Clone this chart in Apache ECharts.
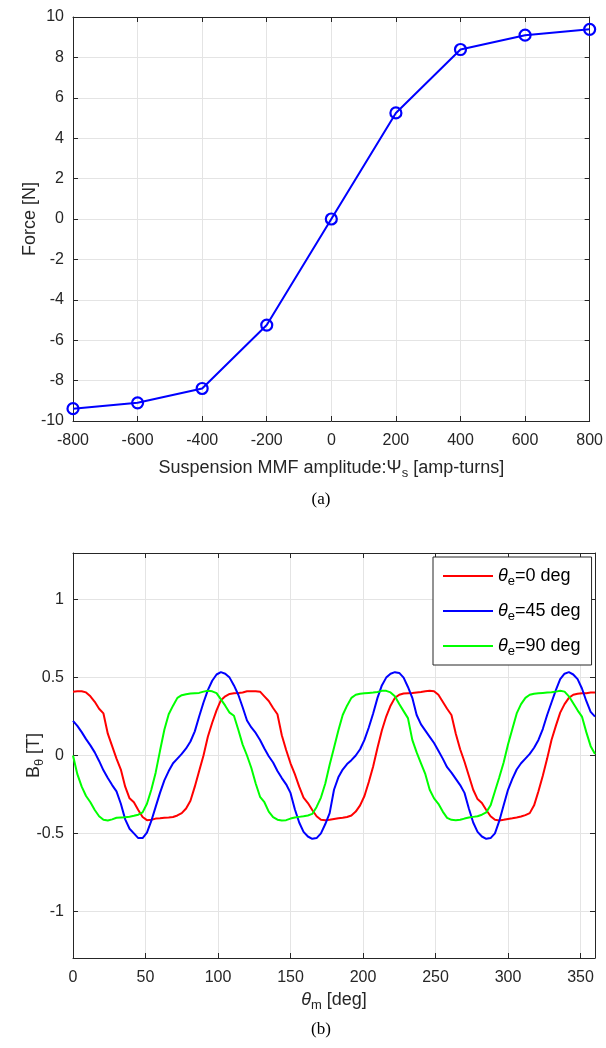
<!DOCTYPE html>
<html>
<head>
<meta charset="utf-8">
<script src="https://cdn.jsdelivr.net/npm/echarts@6/dist/echarts.min.js"></script>
<style>
  html, body { margin: 0; padding: 0; background: #fff; }
  #chart { width: 606px; height: 1048px; }
</style>
</head>
<body>
<div id="chart"></div>
<script>
// (a) force vs suspension MMF
const mmf = [-800, -600, -400, -200, 0, 200, 400, 600, 800];
const force = [-9.39, -9.10, -8.39, -5.25, 0, 5.25, 8.39, 9.10, 9.39];

// (b) air-gap flux density vs mechanical angle
const thetaM = [
  0, 3, 6, 9, 12, 15, 18, 21, 24, 27,
  30, 33, 36, 39, 42, 45, 48, 51, 54, 57,
  60, 63, 66, 69, 72, 75, 78, 81, 84, 87,
  90, 93, 96, 99, 102, 105, 108, 111, 114, 117,
  120, 123, 126, 129, 132, 135, 138, 141, 144, 147,
  150, 153, 156, 159, 162, 165, 168, 171, 174, 177,
  180, 183, 186, 189, 192, 195, 198, 201, 204, 207,
  210, 213, 216, 219, 222, 225, 228, 231, 234, 237,
  240, 243, 246, 249, 252, 255, 258, 261, 264, 267,
  270, 273, 276, 279, 282, 285, 288, 291, 294, 297,
  300, 303, 306, 309, 312, 315, 318, 321, 324, 327,
  330, 333, 336, 339, 342, 345, 348, 351, 354, 357,
  360
];
const bTheta0 = [
  0.410, 0.412, 0.413, 0.405, 0.380, 0.345, 0.300, 0.270, 0.140, 0.060,
  -0.020, -0.090, -0.200, -0.275, -0.300, -0.350, -0.395, -0.415, -0.413, -0.405,
  -0.403, -0.400, -0.398, -0.395, -0.385, -0.370, -0.340, -0.290, -0.200, -0.100,
  0.000, 0.120, 0.210, 0.290, 0.355, 0.380, 0.395, 0.400, 0.402, 0.405,
  0.412, 0.413, 0.413, 0.410, 0.380, 0.350, 0.305, 0.265, 0.130, 0.035,
  -0.050, -0.120, -0.200, -0.270, -0.305, -0.350, -0.390, -0.413, -0.415, -0.413,
  -0.408, -0.403, -0.400, -0.395, -0.385, -0.360, -0.320, -0.260, -0.170, -0.070,
  0.050, 0.160, 0.250, 0.320, 0.370, 0.390, 0.398, 0.400, 0.402, 0.405,
  0.408, 0.412, 0.415, 0.413, 0.390, 0.345, 0.300, 0.260, 0.140, 0.040,
  -0.040, -0.130, -0.220, -0.280, -0.305, -0.350, -0.390, -0.413, -0.417, -0.413,
  -0.407, -0.403, -0.398, -0.392, -0.383, -0.370, -0.320, -0.230, -0.130, -0.020,
  0.100, 0.190, 0.275, 0.330, 0.370, 0.390, 0.397, 0.400, 0.400, 0.404,
  0.405
];
const bTheta45 = [
  0.222, 0.190, 0.150, 0.105, 0.065, 0.020, -0.035, -0.095, -0.145, -0.190,
  -0.230, -0.310, -0.410, -0.470, -0.500, -0.530, -0.530, -0.495, -0.420, -0.330,
  -0.240, -0.160, -0.100, -0.050, -0.020, 0.010, 0.045, 0.090, 0.155, 0.250,
  0.340, 0.420, 0.480, 0.520, 0.535, 0.525, 0.500, 0.450, 0.390, 0.310,
  0.225, 0.180, 0.145, 0.100, 0.045, -0.005, -0.045, -0.100, -0.145, -0.185,
  -0.240, -0.345, -0.430, -0.490, -0.520, -0.535, -0.530, -0.500, -0.440, -0.370,
  -0.220, -0.140, -0.090, -0.055, -0.030, 0.000, 0.040, 0.100, 0.180, 0.270,
  0.370, 0.450, 0.500, 0.525, 0.535, 0.530, 0.500, 0.440, 0.370, 0.260,
  0.200, 0.160, 0.120, 0.080, 0.030, -0.020, -0.075, -0.110, -0.150, -0.190,
  -0.240, -0.340, -0.430, -0.490, -0.520, -0.535, -0.530, -0.500, -0.420, -0.320,
  -0.220, -0.150, -0.090, -0.050, -0.020, 0.010, 0.050, 0.100, 0.170, 0.260,
  0.340, 0.420, 0.490, 0.525, 0.535, 0.520, 0.490, 0.430, 0.350, 0.280,
  0.250
];
const bTheta90 = [
  0.000, -0.120, -0.200, -0.260, -0.300, -0.350, -0.390, -0.413, -0.417, -0.410,
  -0.400, -0.398, -0.396, -0.393, -0.387, -0.380, -0.365, -0.310, -0.220, -0.110,
  0.030, 0.165, 0.265, 0.320, 0.370, 0.387, 0.393, 0.398, 0.400, 0.402,
  0.410, 0.415, 0.412, 0.400, 0.360, 0.320, 0.275, 0.255, 0.165, 0.070,
  0.000, -0.080, -0.180, -0.265, -0.300, -0.360, -0.395, -0.412, -0.417, -0.415,
  -0.405, -0.398, -0.394, -0.390, -0.385, -0.375, -0.330, -0.270, -0.180, -0.060,
  0.050, 0.160, 0.260, 0.320, 0.370, 0.390, 0.397, 0.400, 0.402, 0.404,
  0.408, 0.415, 0.415, 0.405, 0.380, 0.330, 0.285, 0.240, 0.100, 0.020,
  -0.050, -0.120, -0.220, -0.275, -0.310, -0.360, -0.400, -0.413, -0.415, -0.413,
  -0.405, -0.398, -0.394, -0.390, -0.380, -0.365, -0.320, -0.230, -0.140, -0.045,
  0.070, 0.170, 0.270, 0.330, 0.370, 0.390, 0.397, 0.400, 0.402, 0.404,
  0.406, 0.410, 0.415, 0.410, 0.380, 0.335, 0.290, 0.250, 0.150, 0.060,
  0.010
];
const electricAngles = ['0', '45', '90'];
const curveColors = ['#ff0000', '#0000ff', '#00ff00'];
const bTicks = [-1, -0.5, 0, 0.5, 1];

const FONT = '"Liberation Sans", Arial, Helvetica, sans-serif';
const AXC = '#262626';
const GRIDC = '#e4e4e4';

function pairs(xs, ys) {
  return xs.map((x, i) => [x, ys[i]]);
}

const richName = {
  n: { fontFamily: FONT, fontSize: 18, color: AXC, lineHeight: 24 },
  t: { fontFamily: FONT, fontSize: 18, color: AXC, lineHeight: 24, fontStyle: 'italic' },
  s: { fontFamily: FONT, fontSize: 13, color: AXC, lineHeight: 10, verticalAlign: 'bottom' }
};

function mainAxis(extra) {
  return Object.assign({
    type: 'value',
    axisLine: { show: true, onZero: false, lineStyle: { color: AXC, width: 1 } },
    axisTick: { show: true, inside: true, length: 5, lineStyle: { color: AXC } },
    axisLabel: { color: AXC, fontSize: 16, fontFamily: FONT, margin: 12 },
    splitLine: { show: true, lineStyle: { color: GRIDC, width: 1 } },
    nameLocation: 'middle',
    nameMoveOverlap: false,
    nameTextStyle: { rich: richName }
  }, extra);
}

function boxAxis(extra) {
  return Object.assign({
    type: 'value',
    axisLine: { show: true, onZero: false, lineStyle: { color: AXC, width: 1 } },
    axisTick: { show: true, inside: true, length: 5, lineStyle: { color: AXC } },
    axisLabel: { show: false },
    splitLine: { show: false }
  }, extra);
}

var chartDom = document.getElementById('chart');
var myChart = echarts.init(chartDom);
var option;

option = {
  backgroundColor: '#fff',
  animation: false,
  grid: [
    { left: 73, right: 11, top: 17, height: 404 },
    { left: 73, right: 11, top: 553, height: 405 }
  ],
  xAxis: [
    mainAxis({
      gridIndex: 0, position: 'bottom', min: -800, max: 800, interval: 200,
      name: '{n|Suspension MMF amplitude:Ψ}{s|s}{n| [amp-turns]}',
      nameGap: 35
    }),
    boxAxis({ gridIndex: 0, position: 'top', min: -800, max: 800, interval: 200 }),
    mainAxis({
      gridIndex: 1, position: 'bottom', min: 0, max: 360, interval: 50,
      axisLabel: { color: AXC, fontSize: 16, fontFamily: FONT, margin: 12, showMaxLabel: false },
      name: '{t|θ}{s|m}{n| [deg]}',
      nameGap: 30
    }),
    boxAxis({ gridIndex: 1, position: 'top', min: 0, max: 360, interval: 50 })
  ],
  yAxis: [
    mainAxis({
      gridIndex: 0, position: 'left', min: -10, max: 10, interval: 2,
      axisLabel: { color: AXC, fontSize: 16, fontFamily: FONT, margin: 9 },
      name: '{n|Force [N]}',
      nameGap: 31
    }),
    boxAxis({ gridIndex: 0, position: 'right', min: -10, max: 10, interval: 2 }),
    mainAxis({
      gridIndex: 1, position: 'left', min: -1.3, max: 1.3,
      axisTick: { show: true, inside: true, length: 5, lineStyle: { color: AXC }, customValues: bTicks },
      axisLabel: { color: AXC, fontSize: 16, fontFamily: FONT, margin: 9, customValues: bTicks },
      name: '{n|B}{s|θ}{n| [T]}',
      nameGap: 27
    }),
    boxAxis({
      gridIndex: 1, position: 'right', min: -1.3, max: 1.3,
      axisTick: { show: true, inside: true, length: 5, lineStyle: { color: AXC }, customValues: bTicks }
    })
  ],
  legend: {
    data: electricAngles,
    orient: 'vertical',
    left: 433,
    top: 557,
    padding: [10, 11, 7, 10],
    itemGap: 14,
    itemWidth: 50,
    itemHeight: 2,
    icon: 'rect',
    backgroundColor: '#fff',
    borderColor: AXC,
    borderWidth: 1,
    borderRadius: 0,
    formatter: function (name) {
      return '{t|θ}{s|e}{n|=' + name + ' deg}';
    },
    textStyle: {
      rich: {
        n: { fontFamily: FONT, fontSize: 18, color: '#000', lineHeight: 24 },
        t: { fontFamily: FONT, fontSize: 18, color: '#000', lineHeight: 24, fontStyle: 'italic' },
        s: { fontFamily: FONT, fontSize: 13, color: '#000', lineHeight: 8, verticalAlign: 'bottom' }
      }
    }
  },
  graphic: [
    { type: 'text', x: 321, y: 500, style: { text: '(a)', textAlign: 'center', textVerticalAlign: 'middle', font: '17px "Liberation Serif", "Times New Roman", serif', fill: '#000' } },
    { type: 'text', x: 321, y: 1030, style: { text: '(b)', textAlign: 'center', textVerticalAlign: 'middle', font: '17px "Liberation Serif", "Times New Roman", serif', fill: '#000' } }
  ],
  series: [
    {
      name: 'force',
      type: 'line',
      xAxisIndex: 0,
      yAxisIndex: 0,
      data: pairs(mmf, force),
      symbol: 'circle',
      symbolSize: 11,
      itemStyle: { color: 'rgba(0,0,0,0)', borderColor: '#0000ff', borderWidth: 2.2 },
      lineStyle: { color: '#0000ff', width: 2 }
    }
  ].concat([bTheta0, bTheta45, bTheta90].map(function (vals, i) {
    return {
      name: electricAngles[i],
      type: 'line',
      xAxisIndex: 2,
      yAxisIndex: 2,
      data: pairs(thetaM, vals),
      showSymbol: false,
      symbol: 'none',
      color: curveColors[i],
      lineStyle: { color: curveColors[i], width: 2 }
    };
  }))
};

option && myChart.setOption(option);
</script>
</body>
</html>
